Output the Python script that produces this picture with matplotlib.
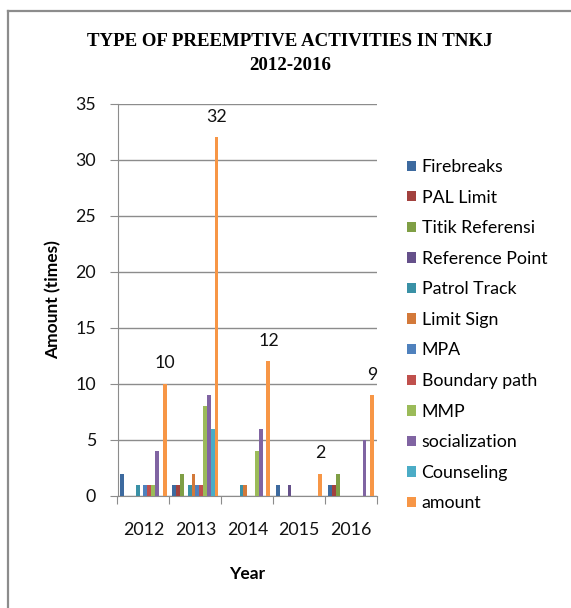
import numpy as np
import matplotlib
matplotlib.use('Agg')
import matplotlib.pyplot as plt
from matplotlib.lines import Line2D

years = ['2012', '2013', '2014', '2015', '2016']
series_names = ['Firebreaks', 'PAL Limit', 'Titik Referensi', 'Reference Point',
                'Patrol Track', 'Limit Sign', 'MPA', 'Boundary path', 'MMP',
                'socialization', 'Counseling', 'amount']
firebreaks = [2, 1, 0, 1, 1]
pal_limit = [0, 1, 0, 0, 1]
titik_referensi = [0, 2, 0, 0, 2]
reference_point = [0, 0, 0, 1, 0]
patrol_track = [1, 1, 1, 0, 0]
limit_sign = [0, 2, 1, 0, 0]
mpa = [1, 1, 0, 0, 0]
boundary_path = [1, 1, 0, 0, 0]
mmp = [1, 8, 4, 0, 0]
socialization = [4, 9, 6, 0, 5]
counseling = [0, 6, 0, 0, 0]
amount = [10, 32, 12, 2, 9]

values = [firebreaks, pal_limit, titik_referensi, reference_point, patrol_track,
          limit_sign, mpa, boundary_path, mmp, socialization, counseling, amount]
colors = ['#3D6A9F', '#A2413E', '#7F9F45', '#65508A', '#3A91A6', '#D3793A',
          '#4F81BD', '#C0504D', '#9BBB59', '#8064A2', '#4BACC6', '#F79646']

W, H = 571, 608
fig = plt.figure(figsize=(W / 100, H / 100), dpi=100)
fig.patch.set_facecolor('white')

# outer chart frame (only top and left edges are visible)
fig.add_artist(Line2D([8 / W, 1], [1 - 11 / H, 1 - 11 / H], color='#8C8C8C', lw=1.6))
fig.add_artist(Line2D([8 / W, 8 / W], [1 - 11 / H, 0], color='#8C8C8C', lw=1.6))

ax = fig.add_axes([117.5 / W, 1 - 496 / H, 259.5 / W, 392.5 / H])

x = np.arange(len(years))
n = len(values)
w = 1 / (n + 1.5)
for i, (name, vals, c) in enumerate(zip(series_names, values, colors)):
    bars = ax.bar(x + (i - (n - 1) / 2) * w, vals, w, color=c, label=name, zorder=3)
    if name == 'amount':
        ax.bar_label(bars, padding=9, fontsize=12.8, family='Lato', color='#111111')

ax.set_xlim(-0.5, len(years) - 0.5)
ax.set_ylim(0, 35)
ax.set_yticks(range(0, 36, 5))
ax.yaxis.grid(True, color='#8C8C8C', lw=1, zorder=0)
for s in ['top', 'right']:
    ax.spines[s].set_visible(False)
for s in ['left', 'bottom']:
    ax.spines[s].set_color('#8C8C8C')
ax.tick_params(axis='y', length=5.5, color='#8C8C8C', pad=10, labelsize=12.8, labelcolor='#111111')
for t in ax.get_yticklabels():
    t.set_family('Lato')

ax.set_xticks(np.arange(-0.5, len(years), 1))
ax.set_xticklabels([])
ax.set_xticks(x, minor=True)
ax.set_xticklabels(years, minor=True, fontsize=12.8, family='Lato', color='#111111')
ax.tick_params(axis='x', which='major', length=5.5, color='#8C8C8C')
ax.tick_params(axis='x', which='minor', length=0, pad=19)

ax.set_xlabel('Year', fontsize=12.5, family='Lato', fontweight='bold', labelpad=20)
ax.set_ylabel('Amount (times)', fontsize=12.5, family='Lato', fontweight='bold', labelpad=10)

fig.text(290 / W, 1 - 41 / H, 'TYPE OF PREEMPTIVE ACTIVITIES IN TNKJ', ha='center', va='center',
         family='Liberation Serif', fontsize=13.6, fontweight='bold')
fig.text(290 / W, 1 - 65 / H, '2012-2016', ha='center', va='center',
         family='Liberation Serif', fontsize=13.6, fontweight='bold')

leg = fig.legend(loc='upper left', bbox_to_anchor=(407 / W, 1 - 159 / H), frameon=False,
                 prop={'family': 'Lato', 'size': 12.8}, handlelength=0.52, handleheight=0.52,
                 handletextpad=0.3, labelspacing=0.82, borderpad=0, borderaxespad=0)

fig.savefig('out.png', dpi=100, facecolor='white')
